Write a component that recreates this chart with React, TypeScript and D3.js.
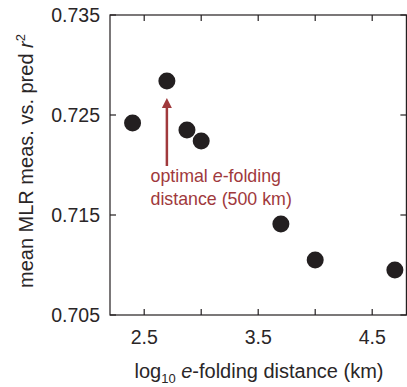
import React from "react";
import * as d3 from "d3";

const distancesKm = [250, 500, 750, 1000, 5000, 10000, 50000];
const meanR2 = [0.7242, 0.7284, 0.7235, 0.7224, 0.7141, 0.7105, 0.7095];
const xTickValues = [2.5, 3.0, 3.5, 4.0, 4.5];
const xTickLabels = ["2.5", "", "3.5", "", "4.5"];
const yTickValues = [0.705, 0.715, 0.725, 0.735];
const yTickLabels = ["0.705", "0.715", "0.725", "0.735"];
const optimalKm = 500;

const W = 407;
const H = 387;
const M = { left: 110, top: 15, right: 407 - 406.4, bottom: 387 - 315 };
const FONT = "'Liberation Sans', Arial, Helvetica, sans-serif";
const RED = "#a0393c";
const INK = "#2a2627";

export default function App() {
  const x = d3.scaleLinear().domain([2.2, 4.8]).range([M.left, W - M.right]);
  const y = d3.scaleLinear().domain([0.705, 0.735]).range([H - M.bottom, M.top]);
  const x0 = M.left, x1 = W - M.right, y0 = H - M.bottom, y1 = M.top;
  const tick = 6;
  const optIdx = distancesKm.indexOf(optimalKm);
  const ax = x(Math.log10(optimalKm));
  const tipY = y(meanR2[optIdx]) + 17;
  const baseY = tipY + 68;
  return (
    <svg width={W} height={H} style={{ position: "absolute", left: 0, top: 0 }}>
      <rect x={0} y={0} width={W} height={H} fill="#fff" />
      <rect x={x0} y={y1} width={x1 - x0} height={y0 - y1} fill="none" stroke="#231f20" strokeWidth={1.2} />
      {xTickValues.map((v, i) => (
        <g key={"xt" + i}>
          <line x1={x(v)} x2={x(v)} y1={y0} y2={y0 - tick} stroke="#231f20" strokeWidth={1.2} />
          <line x1={x(v)} x2={x(v)} y1={y1} y2={y1 + tick} stroke="#231f20" strokeWidth={1.2} />
          {xTickLabels[i] && (
            <text x={x(v)} y={y0 + 28.5} textAnchor="middle" fontFamily={FONT} fontSize={19.5} fill={INK}>
              {xTickLabels[i]}
            </text>
          )}
        </g>
      ))}
      {yTickValues.map((v, i) => (
        <g key={"yt" + i}>
          <line x1={x0} x2={x0 + tick} y1={y(v)} y2={y(v)} stroke="#231f20" strokeWidth={1.2} />
          <line x1={x1} x2={x1 - tick} y1={y(v)} y2={y(v)} stroke="#231f20" strokeWidth={1.2} />
          <text x={100} y={y(v) + 7} textAnchor="end" fontFamily={FONT} fontSize={19.5} fill={INK}>
            {yTickLabels[i]}
          </text>
        </g>
      ))}
      {distancesKm.map((d, i) => (
        <circle key={"p" + i} cx={x(Math.log10(d))} cy={y(meanR2[i])} r={8.5} fill="#231f20" />
      ))}
      <line x1={ax} x2={ax} y1={baseY} y2={tipY + 8} stroke={RED} strokeWidth={2.5} />
      <path d={`M${ax},${tipY} L${ax - 5},${tipY + 10} L${ax + 5},${tipY + 10} Z`} fill={RED} />
      <text x={150.5} y={182} fontFamily={FONT} fontSize={17.8} fill={RED}>
        optimal <tspan fontStyle="italic">e</tspan>-folding
      </text>
      <text x={150.5} y={204.5} fontFamily={FONT} fontSize={17.8} fill={RED}>
        distance (500 km)
      </text>
      <text x={259} y={378} textAnchor="middle" fontFamily={FONT} fontSize={20} fill={INK}>
        log<tspan fontSize={13} dy={5}>10</tspan>
        <tspan dy={-5}> </tspan>
        <tspan fontStyle="italic">e</tspan>-folding distance (km)
      </text>
      <text
        transform={`translate(33,161) rotate(-90)`}
        textAnchor="middle"
        fontFamily={FONT}
        fontSize={20}
        fill={INK}
      >
        mean MLR meas. vs. pred <tspan fontStyle="italic">r</tspan>
        <tspan fontSize={13} dy={-8}>2</tspan>
      </text>
    </svg>
  );
}
